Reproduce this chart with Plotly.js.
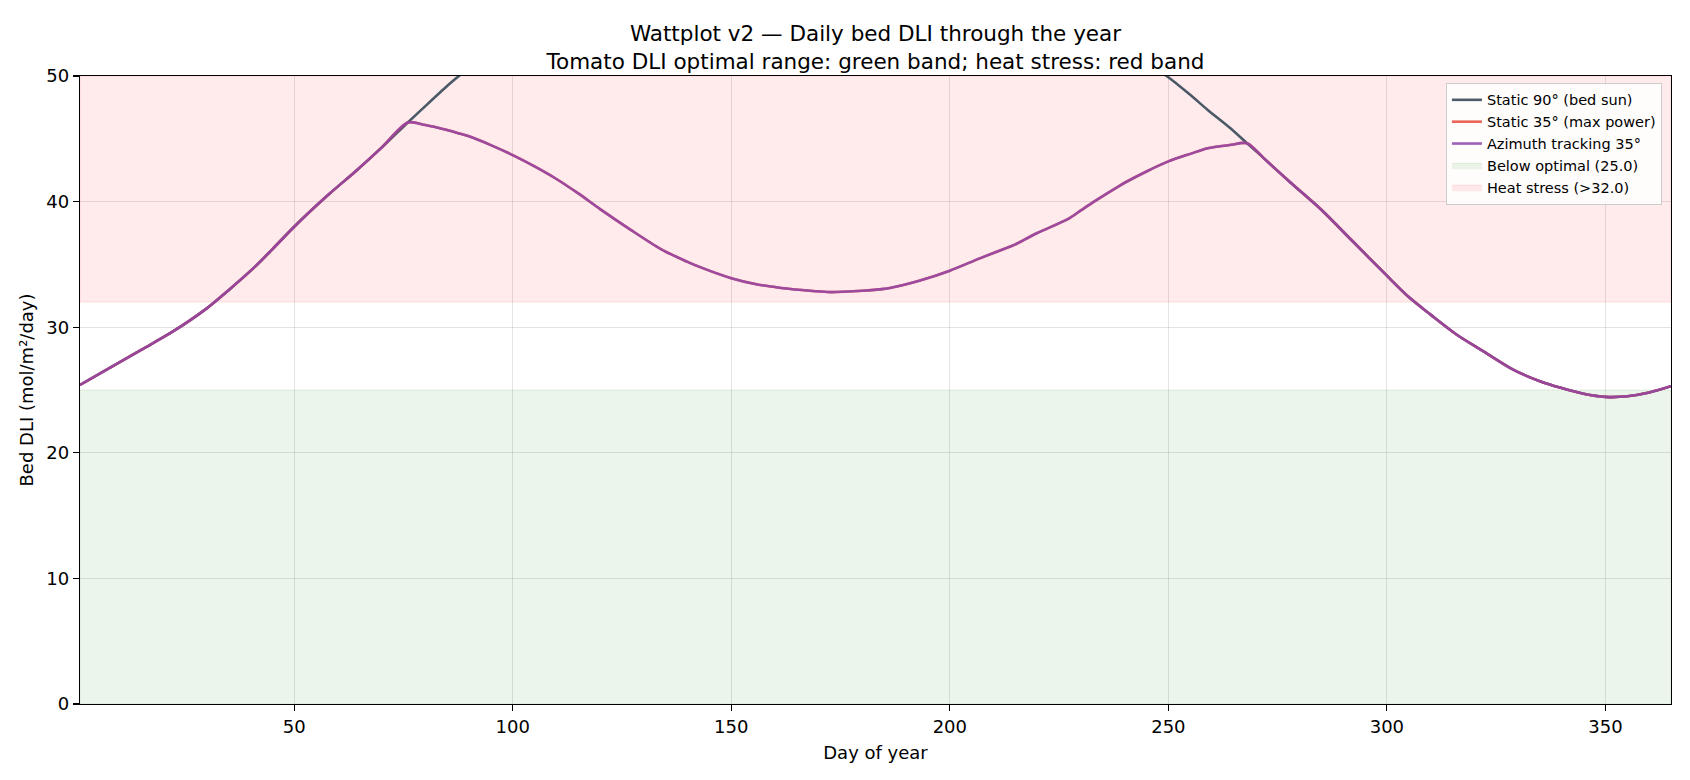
<!DOCTYPE html>
<html>
<head>
<meta charset="utf-8">
<script src="https://cdn.plot.ly/plotly-3.0.1.min.js"></script>
<style>
  html, body { margin: 0; padding: 0; background: #fff; }
  #chart { width: 1690px; height: 780px; }
</style>
</head>
<body>
<div id="chart"></div>
<script>
// Day of year sample points
const days = [1, 8, 15, 22, 30, 35, 41, 45, 50, 58, 64, 70, 76, 80, 85, 88, 90, 95, 100,
  105, 110, 115, 120, 127, 134, 140, 142, 150, 156, 160, 162, 168, 172, 174, 180, 185, 186,
  193, 200, 207, 214, 215, 220, 227, 230, 233, 239, 240, 245, 250, 255, 259, 264, 268,
  272, 278, 285, 292, 300, 305, 310, 316, 322, 329, 335, 340, 345, 350, 355, 360, 365];

// Static 90° (bed sun) - goes off the top of the chart in summer
const static90 = [25.4, 26.8, 28.2, 29.6, 31.5, 32.95, 34.8, 36.2, 38.0, 40.6, 42.4, 44.3, 46.3, 47.6, 49.2, 50.1, 50.7, 52.2, 53.6,
  54.8, 55.9, 56.9, 57.8, 58.9, 59.7, 60.3, 60.4, 61.0, 61.4, 61.6, 61.7, 61.8, 61.8, 61.8, 61.6, 61.4, 61.3,
  60.8, 60.0, 58.9, 57.8, 57.6, 56.6, 55.2, 54.5, 53.9, 52.5, 52.3, 51.1, 49.9, 48.5, 47.3, 45.9, 44.65,
  43.4, 41.5, 39.35, 36.9, 34.1, 32.4, 31.0, 29.4, 28.1, 26.6, 25.7, 25.15, 24.7, 24.45, 24.5, 24.8, 25.3];

// Static 35° (max power)
const static35 = [25.4, 26.8, 28.2, 29.6, 31.5, 32.95, 34.8, 36.2, 38.0, 40.6, 42.4, 44.3, 46.3, 46.1, 45.7, 45.4, 45.2, 44.5, 43.7,
  42.8, 41.8, 40.65, 39.4, 37.75, 36.2, 35.2, 34.9, 33.9, 33.4, 33.2, 33.1, 32.9, 32.8, 32.8, 32.9, 33.05, 33.1,
  33.7, 34.5, 35.5, 36.45, 36.6, 37.5, 38.6, 39.3, 40.0, 41.3, 41.5, 42.4, 43.2, 43.8, 44.25, 44.5, 44.65,
  43.4, 41.5, 39.35, 36.9, 34.1, 32.4, 31.0, 29.4, 28.1, 26.6, 25.7, 25.15, 24.7, 24.45, 24.5, 24.8, 25.3];

// Azimuth tracking 35° (same curve as static 35° in the reference)
const azimuth35 = static35.slice();

// Tomato DLI thresholds
const optimalLow = 25.0;
const heatStress = 32.0;
const yMax = 50;
const xTicks = [50, 100, 150, 200, 250, 300, 350];
const yTicks = [0, 10, 20, 30, 40, 50];

const dayMin = days[0];
const dayMax = days[days.length - 1];

const font = 'DejaVu Sans, Verdana, sans-serif';
const curve = {shape: 'spline', smoothing: 0.8};

const traces = [
  {
    x: [dayMin, dayMax, dayMax, dayMin, dayMin],
    y: [0, 0, optimalLow, optimalLow, 0],
    type: 'scatter', mode: 'lines', fill: 'toself',
    fillcolor: 'rgba(0,128,0,0.08)',
    line: {color: 'rgba(0,128,0,0.10)', width: 1},
    name: 'Below optimal (' + optimalLow.toFixed(1) + ')',
    legendrank: 4, hoverinfo: 'skip'
  },
  {
    x: [dayMin, dayMax, dayMax, dayMin, dayMin],
    y: [heatStress, heatStress, yMax, yMax, heatStress],
    type: 'scatter', mode: 'lines', fill: 'toself',
    fillcolor: 'rgba(255,0,0,0.08)',
    line: {color: 'rgba(255,0,0,0.10)', width: 1},
    name: 'Heat stress (>' + heatStress.toFixed(1) + ')',
    legendrank: 5, hoverinfo: 'skip'
  },
  {
    x: days, y: static90, type: 'scatter', mode: 'lines',
    line: Object.assign({color: '#2c3e50', width: 2.6}, curve), opacity: 0.85,
    name: 'Static 90° (bed sun)', legendrank: 1
  },
  {
    x: days, y: static35, type: 'scatter', mode: 'lines',
    line: Object.assign({color: '#e74c3c', width: 2.6}, curve), opacity: 0.85,
    name: 'Static 35° (max power)', legendrank: 2
  },
  {
    x: days, y: azimuth35, type: 'scatter', mode: 'lines',
    line: Object.assign({color: '#8e44ad', width: 2.6}, curve), opacity: 0.85,
    name: 'Azimuth tracking 35°', legendrank: 3
  }
];

const axisCommon = {
  showline: true, linecolor: '#000', linewidth: 1.3, mirror: true,
  ticks: 'outside', ticklen: 6, tickwidth: 1.2, tickcolor: '#000',
  showgrid: true, gridcolor: 'rgba(176,176,176,0.35)', gridwidth: 1,
  zeroline: false,
  tickfont: {family: font, size: 18, color: '#000'}
};

const layout = {
  width: 1690, height: 780,
  margin: {l: 80, r: 19, t: 76, b: 76},
  paper_bgcolor: '#fff', plot_bgcolor: '#fff',
  font: {family: font, color: '#000'},
  title: {
    text: 'Wattplot v2 — Daily bed DLI through the year<br>Tomato DLI optimal range: green band; heat stress: red band',
    font: {family: font, size: 21.5, color: '#000'},
    x: (80 + (1690 - 19)) / 2 / 1690, xanchor: 'center',
    y: 1 - 41 / 780, yanchor: 'middle', yref: 'container'
  },
  xaxis: Object.assign({}, axisCommon, {
    range: [dayMin, dayMax], tickvals: xTicks,
    title: {text: 'Day of year', font: {family: font, size: 18}, standoff: 10}
  }),
  yaxis: Object.assign({}, axisCommon, {
    range: [0, yMax], tickvals: yTicks,
    title: {text: 'Bed DLI (mol/m²/day)', font: {family: font, size: 18}, standoff: 8}
  }),
  showlegend: true,
  legend: {
    x: 0.9943, xanchor: 'right', y: 0.989, yanchor: 'top',
    bgcolor: 'rgba(255,255,255,0.85)', bordercolor: '#cccccc', borderwidth: 1,
    font: {family: font, size: 14.5, color: '#000'},
    tracegroupgap: 0
  }
};

Plotly.newPlot('chart', traces, layout, {displayModeBar: false, responsive: false, staticPlot: true});
</script>
</body>
</html>
